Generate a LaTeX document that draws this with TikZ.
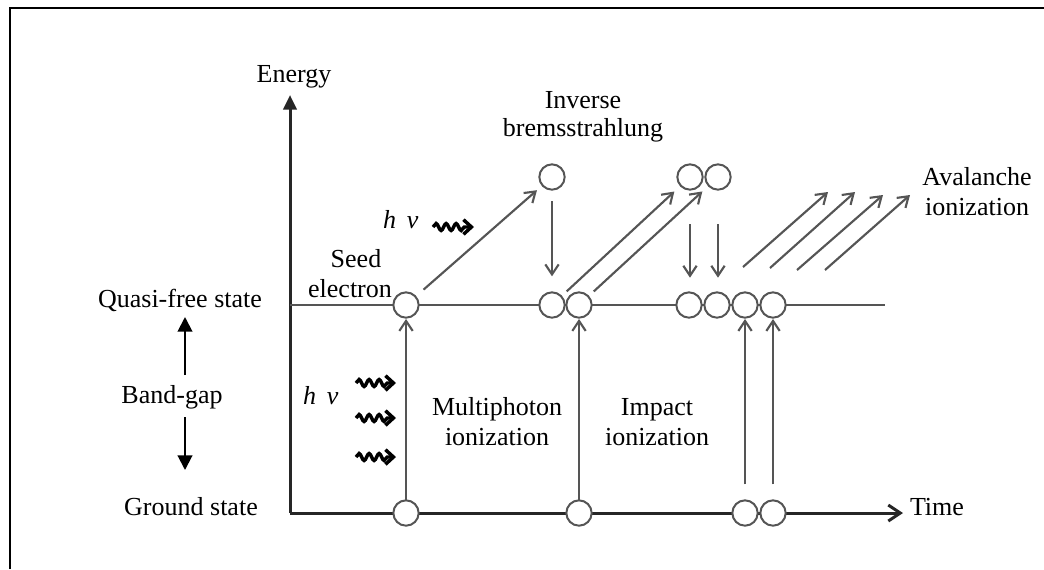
\documentclass[tikz,border=0pt]{standalone}
\usepackage{fontspec}
\setmainfont{Liberation Serif}
\usetikzlibrary{arrows.meta,decorations.pathmorphing}
\definecolor{elgray}{HTML}{555555}
\definecolor{axgray}{HTML}{262626}
\begin{document}
\begin{tikzpicture}[x=0.75pt,y=-0.75pt,
  every node/.style={inner sep=0pt, outer sep=0pt},
  txt/.style={font=\fontsize{19.5}{22.5}\selectfont, anchor=base},
  el/.style={circle, draw=elgray, fill=white, line width=1.5pt, minimum size=19pt},
  garrow/.style={draw=elgray, line width=1.6pt, -{Straight Barb[length=7.5pt,width=10pt]}},
  axisline/.style={draw=axgray, line width=2.25pt},
  gaparrow/.style={draw=black, line width=1.5pt, -{Triangle[length=11pt,width=11pt]}},
  wavy/.style={draw=black, line width=2.6pt, decorate,
    decoration={snake, amplitude=2.6pt, segment length=7.5pt, post length=6pt},
    -{Straight Barb[length=6pt,width=11pt]}}
]
\useasboundingbox (0,0) rectangle (1044,569);
% frame (cropped)
\draw[line width=1.5pt] (10,569) -- (10,7.5) -- (1044,7.5);

% axes
\coordinate (O) at (290,513);
\coordinate (Etip) at (290,95);
\coordinate (Ttip) at (903,513);
\coordinate (Qs) at (290,305);
\coordinate (Qe) at (885,305);
\draw[axisline, -{Triangle[length=11pt,width=10pt]}] (O) -- (Etip);
\draw[axisline, -{Straight Barb[length=9pt,width=12pt]}] (O) -- (Ttip);
\draw[draw=elgray, line width=1.6pt] (Qs) -- (Qe);

% electrons
\node[el] (g1) at (406,513) {};
\node[el] (g2) at (579,513) {};
\node[el] (g3a) at (745,513) {};
\node[el] (g3b) at (773,513) {};
\node[el] (seed) at (406,305) {};
\node[el] (q1a) at (552,305) {};
\node[el] (q1b) at (579,305) {};
\node[el] (q2a) at (689,305) {};
\node[el] (q2b) at (717,305) {};
\node[el] (q2c) at (745,305) {};
\node[el] (q2d) at (773,305) {};
\node[el] (t1) at (552,177) {};
\node[el] (t2a) at (690,177) {};
\node[el] (t2b) at (718,177) {};

% transitions
\draw[garrow, shorten >=1pt] (g1) -- (seed);
\draw[garrow, shorten >=1pt] (g2) -- (q1b);
\draw[garrow, shorten <=12pt, shorten >=1pt] (g3a) -- (q2c);
\draw[garrow, shorten <=12pt, shorten >=1pt] (g3b) -- (q2d);
\draw[garrow, shorten <=8pt, shorten >=5.5pt] (seed) -- (t1);
\draw[garrow, shorten <=8.5pt, shorten >=12pt] (t1) -- (q1a);
\draw[garrow, shorten <=5.5pt, shorten >=6.5pt] (q1a) -- (t2a);
\draw[garrow, shorten <=5.5pt, shorten >=6.5pt] (q1b) -- (t2b);
\draw[garrow, shorten <=26pt, shorten >=11pt] (t2a) -- (t2a |- q2a.north);
\draw[garrow, shorten <=26pt, shorten >=11pt] (t2b) -- (t2b |- q2b.north);

% avalanche arrows
\coordinate (a1s) at (743,267); \coordinate (a1e) at (828,192);
\coordinate (a2s) at (770,268); \coordinate (a2e) at (855,192);
\coordinate (a3s) at (797,270); \coordinate (a3e) at (883,195);
\coordinate (a4s) at (825,270); \coordinate (a4e) at (910,195);
\draw[garrow] (a1s) -- (a1e);
\draw[garrow] (a2s) -- (a2e);
\draw[garrow] (a3s) -- (a3e);
\draw[garrow] (a4s) -- (a4e);

% photons
\coordinate (w1s) at (433,227); \coordinate (w1e) at (474,227);
\coordinate (w2s) at (356,383); \coordinate (w2e) at (396,383);
\coordinate (w3s) at (356,418); \coordinate (w3e) at (396,418);
\coordinate (w4s) at (356,457); \coordinate (w4e) at (396,457);
\draw[wavy] (w1s) -- (w1e);
\draw[wavy] (w2s) -- (w2e);
\draw[wavy] (w3s) -- (w3e);
\draw[wavy] (w4s) -- (w4e);

% band gap arrows
\coordinate (bu1) at (185,375); \coordinate (bu2) at (185,317);
\coordinate (bd1) at (185,417); \coordinate (bd2) at (185,470);
\draw[gaparrow] (bu1) -- (bu2);
\draw[gaparrow] (bd1) -- (bd2);

% labels
\node[txt] (lE) at (294,82) {Energy};
\node[txt, anchor=base west] (lT) at (910,515) {Time};
\node[txt] (lQ) at (180,307) {Quasi-free state};
\node[txt] (lB) at (172,403) {Band-gap};
\node[txt] (lG) at (191,515) {Ground state};
\node[txt] (lS1) at (356,267) {Seed};
\node[txt] (lS2) at (350,297) {electron};
\node[txt] (lI1) at (583,108) {Inverse};
\node[txt] (lI2) at (583,136) {bremsstrahlung};
\node[txt] (lA1) at (977,185) {Avalanche};
\node[txt] (lA2) at (977,215) {ionization};
\node[txt] (lM1) at (497,415) {Multiphoton};
\node[txt] (lM2) at (497,445) {ionization};
\node[txt] (lP1) at (657,415) {Impact};
\node[txt] (lP2) at (657,445) {ionization};
\node[txt, anchor=base west] (hv1) at (383,228) {\itshape h\, ν};
\node[txt, anchor=base west] (hv2) at (303,404) {\itshape h\, ν};
\end{tikzpicture}
\end{document}
